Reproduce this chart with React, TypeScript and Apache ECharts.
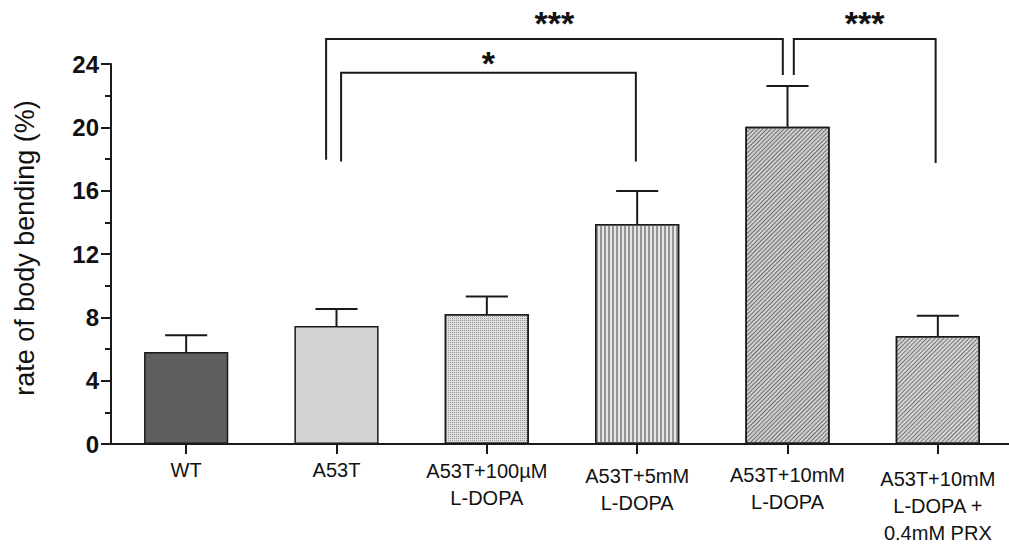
import React, { useEffect, useRef } from "react";
import * as echarts from "echarts";

// ---- data ----
const categories = [
  "WT",
  "A53T",
  "A53T+100µM\nL-DOPA",
  "A53T+5mM\nL-DOPA",
  "A53T+10mM\nL-DOPA",
  "A53T+10mM\nL-DOPA +\n0.4mM PRX",
];
const means = [5.81, 7.45, 8.21, 13.9, 20.04, 6.82];
const sems = [1.06, 1.08, 1.11, 2.08, 2.57, 1.28];

// significance comparisons (category indices and heights in axis units)
const bracketFrom = [1, 1, 4];
const bracketTo = [4, 3, 5];
const bracketTop = [25.58, 23.44, 25.58];
const bracketFromEnd = [17.96, 17.85, 23.31];
const bracketToEnd = [23.31, 17.85, 17.75];
const bracketLabels = ["***", "*", "***"];

// ---- styles ----
const bracketFromOffset = [-10.4, 4.6, 6.3];
const bracketToOffset = [-4.7, -1.3, -2.2];
const bracketLabelGap = [-1, -7, -1];
const labelDrop = [0, 0, 1, 6, 5, 9];

const barStyles: any[] = [
  { color: "#5f5f5f" },
  { color: "#d4d4d4" },
  {
    color: "#dedede",
    decal: {
      symbol: "rect",
      symbolSize: 1,
      symbolKeepAspect: false,
      color: "#9a9a9a",
      dashArrayX: [1, 1],
      dashArrayY: [1, 1],
    },
  },
  {
    color: "#e6e6e6",
    decal: {
      symbol: "rect",
      symbolSize: 1,
      symbolKeepAspect: false,
      color: "#959595",
      dashArrayX: [[2, 2]],
      dashArrayY: [1, 0],
    },
  },
  {
    color: "#d0d0d0",
    decal: {
      symbol: "rect",
      symbolSize: 1,
      symbolKeepAspect: false,
      color: "#6e6e6e",
      dashArrayX: [1, 0],
      dashArrayY: [1, 2],
      rotation: -Math.PI / 4,
    },
  },
  {
    color: "#d4d4d4",
    decal: {
      symbol: "rect",
      symbolSize: 1,
      symbolKeepAspect: false,
      color: "#787878",
      dashArrayX: [1, 0],
      dashArrayY: [1, 2],
      rotation: -Math.PI / 4,
    },
  },
];

const FONT = '"Liberation Sans", Arial, sans-serif';
const INK = "#1a1a1a";

export default function App() {
  const ref = useRef<HTMLDivElement>(null);

  useEffect(() => {
    if (!ref.current) return;
    const chart = echarts.init(ref.current, undefined, { renderer: "svg" });

    const barData = means.map((v, i) => ({
      value: v,
      itemStyle: {
        ...barStyles[i],
        borderColor: INK,
        borderWidth: 1.5,
      },
    }));

    const categoryData = categories.map((c, i) => ({
      value: c,
      textStyle: { padding: [labelDrop[i], 0, 0, 0] },
    }));

    const errData = means.map((v, i) => [i, v, sems[i]]);
    const bracketData = bracketFrom.map((f, i) => [
      f,
      bracketTop[i],
      bracketTo[i],
      bracketFromEnd[i],
      bracketToEnd[i],
    ]);

    chart.setOption({
      animation: false,
      backgroundColor: "#ffffff",
      grid: {
        left: 111,
        right: -4,
        top: 64,
        bottom: 102,
        containLabel: false,
        outerBoundsMode: "none",
      },
      xAxis: {
        type: "category",
        data: categoryData,
        axisLine: { lineStyle: { color: INK, width: 2 } },
        axisTick: {
          show: true,
          alignWithLabel: true,
          length: 10,
          lineStyle: { color: INK, width: 2 },
        },
        axisLabel: {
          interval: 0,
          color: "#111",
          fontFamily: FONT,
          fontSize: 20,
          lineHeight: 27,
          margin: 12,
        },
      },
      yAxis: {
        type: "value",
        min: 0,
        max: 24,
        interval: 4,
        name: "rate of body bending (%)",
        nameLocation: "middle",
        nameGap: 73,
        nameTextStyle: {
          color: "#111",
          fontFamily: FONT,
          fontSize: 27,
          padding: [0, 0, 0, 12],
        },
        axisLine: { show: true, lineStyle: { color: INK, width: 2 } },
        axisTick: { show: true, length: 10, lineStyle: { color: INK, width: 2 } },
        minorTick: {
          show: true,
          splitNumber: 2,
          length: 6,
          lineStyle: { color: INK, width: 2 },
        },
        splitLine: { show: false },
        axisLabel: {
          color: "#111",
          fontFamily: FONT,
          fontSize: 24,
          fontWeight: "bold",
          margin: 12,
        },
      },
      series: [
        {
          type: "bar",
          data: barData,
          barWidth: "56%",
          z: 2,
        },
        {
          type: "custom",
          z: 3,
          encode: { x: 0, y: 1 },
          data: errData,
          renderItem: (params: any, api: any) => {
            const idx = api.value(0);
            const top = api.coord([idx, api.value(1)]);
            const cap = api.coord([idx, api.value(1) + api.value(2)]);
            const bw = api.size([1, 0])[0] * 0.56;
            const hw = bw * 0.25;
            const style = { stroke: INK, lineWidth: 2, fill: "none" };
            return {
              type: "group",
              children: [
                { type: "line", shape: { x1: top[0], y1: top[1], x2: cap[0], y2: cap[1] }, style },
                { type: "line", shape: { x1: cap[0] - hw, y1: cap[1], x2: cap[0] + hw, y2: cap[1] }, style },
              ],
            };
          },
        },
        {
          type: "custom",
          z: 3,
          clip: false,
          encode: { x: 0, y: 1 },
          data: bracketData,
          renderItem: (params: any, api: any) => {
            const i = params.dataIndex;
            const pTop = api.coord([api.value(0), api.value(1)]);
            const pTo = api.coord([api.value(2), api.value(1)]);
            const yFromEnd = api.coord([api.value(0), api.value(3)])[1];
            const yToEnd = api.coord([api.value(2), api.value(4)])[1];
            const xL = pTop[0] + bracketFromOffset[i];
            const xR = pTo[0] + bracketToOffset[i];
            const yT = pTop[1];
            return {
              type: "group",
              children: [
                {
                  type: "polyline",
                  shape: {
                    points: [
                      [xL, yFromEnd],
                      [xL, yT],
                      [xR, yT],
                      [xR, yToEnd],
                    ],
                  },
                  style: { stroke: INK, lineWidth: 2, fill: "none" },
                },
                {
                  type: "text",
                  x: (xL + xR) / 2,
                  y: yT - bracketLabelGap[i],
                  style: {
                    text: bracketLabels[i],
                    fill: "#111",
                    font: `bold 34px ${FONT}`,
                    align: "center",
                    verticalAlign: "bottom",
                  },
                },
              ],
            };
          },
        },
      ],
    });

    return () => chart.dispose();
  }, []);

  return (
    <div
      ref={ref}
      style={{ position: "absolute", left: 0, top: 0, width: 1009, height: 546 }}
    />
  );
}
